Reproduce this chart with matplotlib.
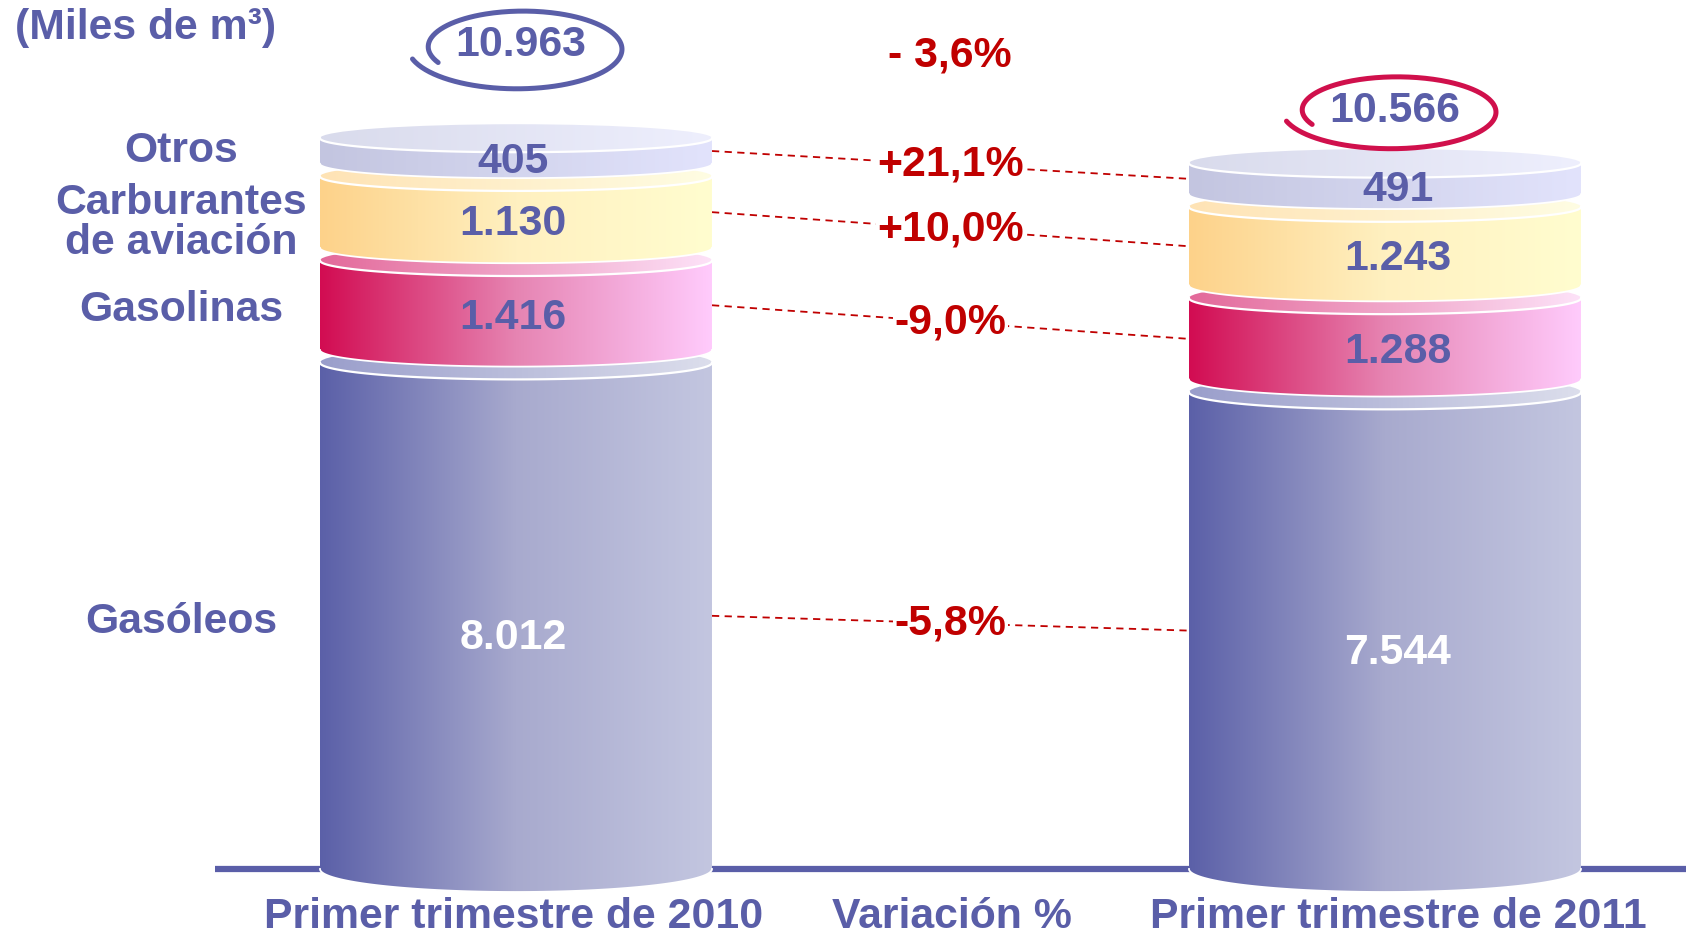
"""
Consumo de productos petrolíferos: primer trimestre 2010 frente a 2011.
Cilindros apilados con degradado, dibujados a mano con matplotlib.
"""
import numpy as np
import matplotlib
matplotlib.use('Agg')
from matplotlib import pyplot as plt
from matplotlib.colors import LinearSegmentedColormap
from matplotlib.patches import Polygon, Ellipse

plt.rcParams['font.family'] = ['Liberation Sans', 'DejaVu Sans']

# Datos (miles de m3), de abajo hacia arriba
productos = ['Gasóleos', 'Gasolinas', 'Carburantes\nde aviación', 'Otros']
valores_2010 = [8012, 1416, 1130, 405]
valores_2011 = [7544, 1288, 1243, 491]
etiquetas_2010 = ['8.012', '1.416', '1.130', '405']
etiquetas_2011 = ['7.544', '1.288', '1.243', '491']
variaciones = ['-5,8%', '-9,0%', '+10,0%', '+21,1%']
total_2010 = '10.963'
total_2011 = '10.566'
variacion_total = '- 3,6%'
periodos = ['Primer trimestre de 2010', 'Variación %', 'Primer trimestre de 2011']

AZUL = '#5A5EA8'
ROJO = '#C00000'
CARMIN = '#D0104C'
FS = 30.8

# degradados (lateral, tapa) de cada producto
colores_lado = [['#5B60A8', '#A8AACE', '#C3C6E0'],
                ['#D20C52', '#E684B2', '#FFCBFC'],
                ['#FDD28A', '#FFF0C0', '#FFFDCF'],
                ['#C3C5E0', '#D3D5EE', '#E2E3FC']]
colores_tapa = [['#9A9ECB', '#DCDEEC'],
                ['#E3699A', '#FDE2F8'],
                ['#FEE3B5', '#FFFDE3'],
                ['#D9DBEC', '#EEEFFD']]

# geometría
ANCHO, ALTO = 1686, 938
K = 0.0632          # px por unidad
BASE_PX = 69        # altura de la línea base desde abajo
HUECO = 200         # separación entre segmentos
W = 196             # semiancho del cilindro (px)
CX = [516, 1385]
DX_ETIQ = [-3, 13]
GRAD = np.linspace(0, 1, 256).reshape(1, -1)


def radio(y):
    """Semieje vertical de la elipse (en unidades de datos)."""
    return (23 - 9 * y / 11563) / K


def degradado(ax, colores, extent, clip, z):
    cmap = LinearSegmentedColormap.from_list('g', colores)
    im = ax.imshow(GRAD, cmap=cmap, extent=extent, aspect='auto',
                   interpolation='bilinear', zorder=z)
    im.set_clip_path(clip)


def cilindro(ax, cx, y0, y1, lado, tapa, z):
    r0, r1 = radio(y0), radio(y1)
    t = np.linspace(np.pi, 2 * np.pi, 120)
    xs = cx + W * np.cos(t)
    inf = y0 + r0 * np.sin(t)
    sup = y1 + r1 * np.sin(t)
    verts = np.vstack([np.column_stack([xs, inf]),
                       np.column_stack([xs[::-1], sup[::-1]])])
    cuerpo = Polygon(verts, closed=True, facecolor='none', edgecolor='none')
    ax.add_patch(cuerpo)
    degradado(ax, lado, (cx - W, cx + W, y0 - r0, y1 + r1), cuerpo, z)
    ax.plot(xs, inf, color='white', lw=1.3, zorder=z + 0.1)

    elipse = Ellipse((cx, y1), 2 * W, 2 * r1, facecolor='none', edgecolor='none')
    ax.add_patch(elipse)
    degradado(ax, tapa, (cx - W, cx + W, y1 - r1, y1 + r1), elipse, z + 0.2)
    ax.plot(xs, sup, color='white', lw=1.6, zorder=z + 0.3)


def pila(ax, cx, dx, valores, etiquetas):
    medios = []
    y0 = 0
    for i, v in enumerate(valores):
        y1 = y0 + v
        cilindro(ax, cx, y0, y1, colores_lado[i], colores_tapa[i], 2 + i)
        ym = (y0 + y1) / 2
        medios.append(ym)
        bajada = 1.1 if i == 0 else 0.8
        ax.text(cx + dx, ym - bajada * radio(ym), etiquetas[i], ha='center', va='center',
                fontsize=FS, fontweight='bold', zorder=20,
                color='white' if i == 0 else AZUL)
        y0 = y1 + HUECO
    return medios


def bucle(ax, cx, cy, a, b, color):
    t = np.radians(np.linspace(205, -165, 300))
    r = np.linspace(0.86, 1.06, t.size)
    ax.plot(cx + a * r * np.cos(t), cy + b * r * np.sin(t) / K,
            color=color, lw=3.6, solid_capstyle='round', zorder=15)


fig = plt.figure(figsize=(ANCHO / 100, ALTO / 100), dpi=100)
ax = fig.add_axes([0, 0, 1, 1])
ax.axis('off')

# línea base
ax.plot([215, ANCHO], [0, 0], color=AZUL, lw=4.5, solid_capstyle='butt', zorder=1)

medios_2010 = pila(ax, CX[0], DX_ETIQ[0], valores_2010, etiquetas_2010)
medios_2011 = pila(ax, CX[1], DX_ETIQ[1], valores_2011, etiquetas_2011)

# líneas de variación
for i in range(len(productos)):
    xa, xb = CX[0] + W, CX[1] - W
    ya, yb = medios_2010[i], medios_2011[i]
    ax.plot([xa, xb], [ya, yb], color=ROJO, lw=1.3, ls=(0, (4, 3)), zorder=1)
    ax.text((xa + xb) / 2, (ya + yb) / 2, variaciones[i], ha='center', va='center',
            fontsize=FS, fontweight='bold', color=ROJO, zorder=6,
            bbox=dict(facecolor='white', edgecolor='none', pad=1))

# nombres de los productos
ajustes = [-100, -80, -170, 0]
for i, nombre in enumerate(productos):
    ax.text(181, medios_2010[i] + ajustes[i], nombre, ha='center', va='center',
            fontsize=FS, fontweight='bold', color=AZUL, linespacing=1.0)

# totales
y_total_2010, y_total_2011, y_var_total = 13038, 11994, 12864
ax.text(CX[0] + 5, y_total_2010, total_2010, ha='center', va='center',
        fontsize=FS, fontweight='bold', color=AZUL, zorder=16)
bucle(ax, CX[0] + 4, y_total_2010 - 3 / K, 105, 40, AZUL)
ax.text(CX[1] + 10, y_total_2011, total_2011, ha='center', va='center',
        fontsize=FS, fontweight='bold', color=AZUL, zorder=16)
bucle(ax, CX[1] + 9, y_total_2011, 105, 37, CARMIN)
ax.text(950, y_var_total, variacion_total, ha='center', va='center',
        fontsize=FS, fontweight='bold', color=ROJO)

# unidades
ax.text(15, 13300, '(Miles de m³)', ha='left', va='center',
        fontsize=FS, fontweight='bold', color=AZUL)

# periodos
for x, texto in zip([514, 952, 1398], periodos):
    ax.text(x, -760, texto, ha='center', va='center',
            fontsize=FS, fontweight='bold', color=AZUL)

ax.set_xlim(0, ANCHO)
ax.set_ylim(-BASE_PX / K, (ALTO - BASE_PX) / K)

fig.savefig('out.png', dpi=100)
